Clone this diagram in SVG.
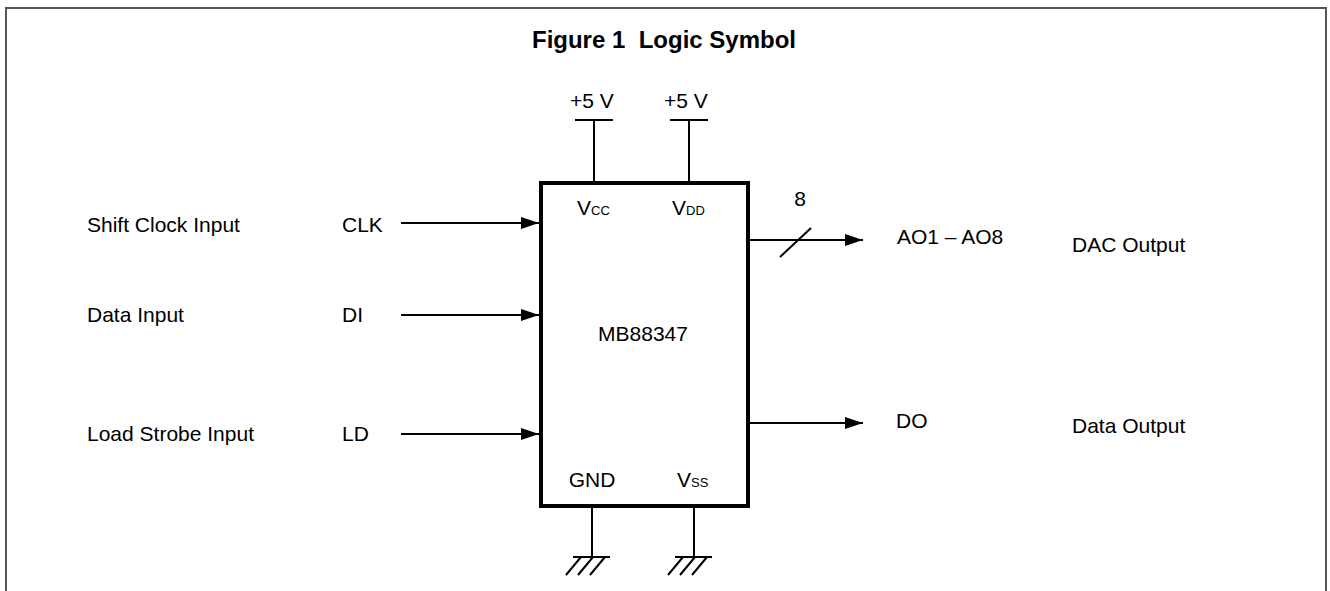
<svg xmlns="http://www.w3.org/2000/svg" width="1330" height="591" viewBox="0 0 1330 591">
<defs>
<style>
text{font-family:"Liberation Sans",Arial,sans-serif;fill:#000;font-size:21px}
.t{font-weight:bold;font-size:24px}
.s{font-size:13px}
.w{stroke:#000;stroke-width:2;fill:none}
.frame{stroke:#555;stroke-width:2;fill:none}
</style>
<marker id="ar" markerUnits="userSpaceOnUse" markerWidth="18" markerHeight="12" refX="18" refY="6" orient="auto"><path d="M0,0 L18,6 L0,12 Z" fill="#000"/></marker>
</defs>
<rect width="1330" height="591" fill="#fff"/>
<path class="frame" d="M6,591 V8 H1326 V591"/>
<text class="t" x="664" y="48" text-anchor="middle" xml:space="preserve">Figure 1  Logic Symbol</text>
<g id="chip">
<rect x="541" y="183" width="207" height="323" fill="#fff" stroke="#000" stroke-width="4"/>
<text x="643" y="341" text-anchor="middle">MB88347</text>
<text x="577" y="215">V<tspan class="s">CC</tspan></text>
<text x="672" y="215">V<tspan class="s">DD</tspan></text>
<text x="592" y="487" text-anchor="middle">GND</text>
<text x="677" y="487">V<tspan class="s">SS</tspan></text>
</g>
<g id="vcc">
<text x="592" y="108" text-anchor="middle">+5 V</text>
<path class="w" d="M575,120 H613 M594,120 V182"/>
</g>
<g id="vdd">
<text x="686" y="108" text-anchor="middle">+5 V</text>
<path class="w" d="M670,120 H708 M689,120 V182"/>
</g>
<g id="gnd1">
<path class="w" d="M592,508 V557 M573,557 H610 M581,557 L566,575 M593,557 L578,575 M605,557 L590,575"/>
</g>
<g id="gnd2">
<path class="w" d="M694,508 V557 M675,557 H712 M683,557 L668,575 M695,557 L680,575 M707,557 L692,575"/>
</g>
<g id="labels-left">
<text x="87" y="232">Shift Clock Input</text>
<text x="342" y="232">CLK</text>
<text x="87" y="322">Data Input</text>
<text x="342" y="322">DI</text>
<text x="87" y="441">Load Strobe Input</text>
<text x="342" y="441">LD</text>
</g>
<g id="labels-right">
<text x="800" y="206" text-anchor="middle">8</text>
<text x="897" y="244">AO1 – AO8</text>
<text x="1072" y="252">DAC Output</text>
<text x="896" y="428">DO</text>
<text x="1072" y="433">Data Output</text>
</g>
<g id="connectors">
<line class="w" x1="401" y1="223" x2="539" y2="223" marker-end="url(#ar)"/>
<line class="w" x1="401" y1="315" x2="539" y2="315" marker-end="url(#ar)"/>
<line class="w" x1="401" y1="434" x2="539" y2="434" marker-end="url(#ar)"/>
<line class="w" x1="750" y1="240" x2="863" y2="240" marker-end="url(#ar)"/>
<line class="w" x1="780" y1="257" x2="811" y2="228"/>
<line class="w" x1="750" y1="423" x2="863" y2="423" marker-end="url(#ar)"/>
</g>
</svg>
